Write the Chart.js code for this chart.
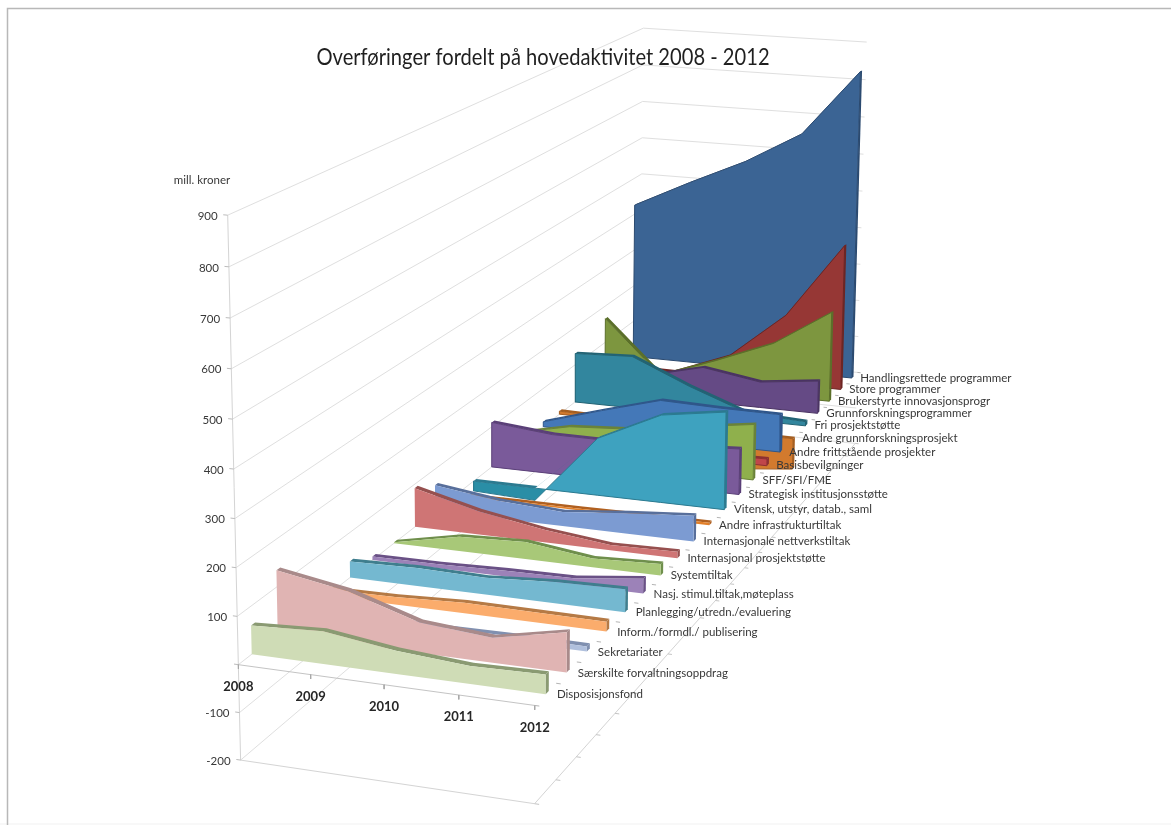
<!DOCTYPE html>
<html><head><meta charset="utf-8">
<style>html,body{margin:0;padding:0;background:#fff}canvas{display:block;filter:blur(0.6px)}</style>
<script src="https://cdn.jsdelivr.net/npm/chart.js@4/dist/chart.umd.min.js"></script>
</head><body><canvas id="c" width="1171" height="825"></canvas>
<script>
const titleText = "Overføringer fordelt på hovedaktivitet 2008 - 2012";
const unitLabel = "mill. kroner";
const years = ["2008","2009","2010","2011","2012"];
const valueTicks = [900,800,700,600,500,400,300,200,100,-100,-200];
const gridValues = [900,800,700,600,500,400,300,200,100,0,-100,-200];
const categories = ["Disposisjonsfond","Særskilte forvaltningsoppdrag","Sekretariater","Inform./formdl./ publisering","Planlegging/utredn./evaluering","Nasj. stimul.tiltak,møteplass","Systemtiltak","Internasjonal prosjektstøtte","Internasjonale nettverkstiltak","Andre infrastrukturtiltak","Vitensk, utstyr, datab., saml","Strategisk institusjonsstøtte","SFF/SFI/FME","Basisbevilgninger","Andre frittstående prosjekter","Andre grunnforskningsprosjekt","Fri prosjektstøtte","Grunnforskningsprogrammer","Brukerstyrte innovasjonsprogr","Store programmer","Handlingsrettede programmer"];
const disposisjonsfond = [60,68,48,37,40];
const saerskilte = [135,110,64,52,83];
const sekretariater = [10,12,10,12,11];
const inform = [14,16,23,22,21];
const planlegging = [36,40,37,47,50];
const nasjStimul = [8,9,13,15,33];
const systemtiltak = [2,33,39,20,26];
const internasjonalProsjekt = [91,54,29,12,15];
const internasjonaleNettverk = [62,42,33,48,60];
const andreInfrastruktur = [3,4,4,5,6];
const vitensk = [-24,-30,138,210,233];
const strategisk = [111,97,97,102,111];
const sff = [50,83,93,115,137];
const basis = [4,8,10,14,17];
const andreFrittstaaende = [13,58,100,96,95];
const andreGrunn = [8,5,-30,-95,-79];
const friProsjekt = [130,137,73,18,11];
const grunnProgram = [40,55,92,68,86];
const brukerstyrte = [165,25,80,141,239];
const storeProgram = [5,3,62,188,390];
const handlingsrettede = [425,499,568,654,831];
const seriesValues = [disposisjonsfond,saerskilte,sekretariater,inform,planlegging,nasjStimul,systemtiltak,internasjonalProsjekt,internasjonaleNettverk,andreInfrastruktur,vitensk,strategisk,sff,basis,andreFrittstaaende,andreGrunn,friProsjekt,grunnProgram,brukerstyrte,storeProgram,handlingsrettede];
const faceColors = ["#cfdcb6","#e0b4b3","#b0c0dd","#fbac6c","#74b8d0","#9c82b8","#a8c878","#cf7575","#7c9bd2","#e2802a","#3ea2bf","#7a5a9a","#8fb04c","#c0464a","#4478b8","#d27a2e","#32869e","#654a85","#7d963f","#963735","#3b6494"];
const edgeColors = ["#8a9a72","#a98a8a","#8090b0","#b57a45","#3f7e8e","#6a5186","#6f8f4c","#96504f","#586f9b","#b06020","#2b7a90","#5a3f78","#6a8238","#8d3032","#2f568a","#a55e20","#226374","#4a3363","#5b6f2a","#6d2523","#2b4a70"];
const negativeColors = {10:"#2a8ea6"};

// Camera calibration: [year index, depth index, value] -> picture position of the box corners.
const calibration = [
 [0,0,900,228,213],[0,0,0,239,665],[0,0,-200,242,760],[4,0,-200,535,803],[4,0,0,535,705],[2,0,0,384,685],
 [0,21,900,643,29],[0,21,500,642,175],[4,21,900,867,42],[4,21,0,858,372],
 [0,.5,0,250,655],[4,.5,0,545,693],[4,1.5,0,567,672],[4,20.5,0,852,378],[0,20.5,0,633,354],
 [0,4.5,0,350,578],[0,7.5,0,415,528],[4,7.5,0,677,563],[4,10.5,0,723,508],[4,14.5,0,780,452]
];
function solveCamera(){
  const n=11,A=Array.from({length:n},()=>new Array(n+1).fill(0));
  const add=(r,b)=>{for(let i=0;i<n;i++){for(let j=0;j<n;j++)A[i][j]+=r[i]*r[j];A[i][n]+=r[i]*b;}};
  for(const [t,d,v,x,y] of calibration){
    const V=v/100,X=x/1000,Y=y/1000;
    add([t,d,V,1,0,0,0,0,-X*t,-X*d,-X*V],X);
    add([0,0,0,0,t,d,V,1,-Y*t,-Y*d,-Y*V],Y);
  }
  for(let i=0;i<n;i++){
    let m=i;for(let k=i+1;k<n;k++)if(Math.abs(A[k][i])>Math.abs(A[m][i]))m=k;
    [A[i],A[m]]=[A[m],A[i]];
    for(let k=0;k<n;k++){if(k===i)continue;const f=A[k][i]/A[i][i];for(let j=i;j<=n;j++)A[k][j]-=f*A[i][j];}
  }
  return A.map((r,i)=>r[n]/r[i]);
}
const cam=solveCamera();
function project(t,d,v){
  const V=v/100,w=cam[8]*t+cam[9]*d+cam[10]*V+1;
  return {x:1000*(cam[0]*t+cam[1]*d+cam[2]*V+cam[3])/w,y:1000*(cam[4]*t+cam[5]*d+cam[6]*V+cam[7])/w};
}

const datasets=[];
function addLine(points,color,width){datasets.push({data:points,showLine:true,fill:false,borderColor:color,borderWidth:width,pointRadius:0,tension:0,clip:false});}
function addPoly(points,fill,stroke,width){
  datasets.push({data:points.concat([points[0]]),showLine:width>0,polyFill:fill,borderColor:stroke,borderWidth:width,pointRadius:0,tension:0,clip:false,borderJoinStyle:'round'});
}
// walls and floor
gridValues.forEach(v=>{
  addLine([project(0,0,v),project(0,21,v),project(4,21,v)],"#dfdfdf",1);
});
addLine([project(0,0,900),project(0,0,-200)],"#d4d4d4",1);
addLine([project(0,0,-200),project(4,0,-200),project(4,21,-200)],"#d4d4d4",1);
addLine([project(0,0,0),project(4,0,0)],"#c4c4c4",1);
valueTicks.concat([0]).forEach(v=>addLine([project(-.06,0,v),project(0,0,v)],"#bcbcbc",1));
years.forEach((y,i)=>addLine([project(i,0,0),project(i,0,-9)],"#a8a8a8",1));
for(let k=0;k<=21;k++){
  addLine([project(4,k,0),project(4.06,k,0)],"#b4b4b4",1);
  addLine([project(4,k,-200),project(4.06,k,-200)],"#c4c4c4",1);
}
// areas, back to front
const depthGap=.15;
function signRuns(vals){
  const runs=[];let cur=null;
  vals.forEach((v,i)=>{
    if(i>0&&vals[i-1]*v<0){
      const tc=i-1+vals[i-1]/(vals[i-1]-v);
      cur.push({t:tc,v:0});cur=[{t:tc,v:0}];runs.push(cur);
    }
    if(!cur){cur=[];runs.push(cur);}
    cur.push({t:i,v});
  });
  return runs;
}
for(let s=seriesValues.length-1;s>=0;s--){
  const vals=seriesValues[s],d=s+.5,dB=d+depthGap,edge=edgeColors[s];
  // top face
  const topFace=vals.map((v,i)=>project(i,d,Math.max(v,0))).concat(vals.map((v,i)=>project(i,dB,Math.max(v,0))).reverse());
  addPoly(topFace,edge,edge,0);
  // end face
  const last=vals[vals.length-1];
  addPoly([project(4,d,0),project(4,d,last),project(4,dB,last),project(4,dB,0)],edge,edge,0);
  // front face(s)
  signRuns(vals).forEach(run=>{
    const neg=run.some(p=>p.v<0);
    const poly=run.map(p=>project(p.t,d,p.v)).concat(run.map(p=>project(p.t,d,0)).reverse());
    addPoly(poly,neg&&negativeColors[s]?negativeColors[s]:faceColors[s],edge,s>=10?1:0);
  });
}
datasets.forEach((ds,i)=>ds.order=datasets.length-i);

const polygonPlugin={id:'polygons',beforeDatasetDraw(chart,args){
  const ds=chart.data.datasets[args.index];if(!ds.polyFill)return;
  const pts=args.meta.data,ctx=chart.ctx;ctx.save();ctx.beginPath();
  pts.forEach((p,i)=>i?ctx.lineTo(p.x,p.y):ctx.moveTo(p.x,p.y));
  ctx.closePath();ctx.fillStyle=ds.polyFill;ctx.fill();ctx.restore();
}};
const textFont='Lato, "Open Sans", sans-serif';
const textPlugin={id:'texts',beforeDraw(chart){
  const c=chart.ctx;c.save();c.fillStyle="#fff";c.fillRect(0,0,1171,825);
  c.fillStyle="#f8f8f8";c.fillRect(0,823,1171,2);
  c.strokeStyle="#b8b8b8";c.lineWidth=1.5;c.beginPath();c.moveTo(7.5,825);c.lineTo(7.5,8.5);c.lineTo(1171,8.5);c.stroke();c.restore();
},afterDraw(chart){
  const c=chart.ctx;c.save();c.textBaseline='middle';
  c.fillStyle="#1f1f1f";c.textAlign='center';c.font='22px '+textFont;
  c.save();c.translate(543,58);c.scale(.915,1.02);c.fillText(titleText,0,0);c.restore();
  c.fillStyle="#383838";c.font='11.5px '+textFont;
  c.fillText(unitLabel,202,180);
  c.textAlign='right';
  valueTicks.forEach(v=>{const p=project(0,0,v);c.fillText(String(v),p.x-10,p.y+1);});
  c.textAlign='center';c.fillStyle="#262626";c.font='bold 13px '+textFont;
  years.forEach((y,i)=>{const p=project(i,0,0);c.fillText(y,p.x,p.y+22);});
  c.textAlign='left';c.fillStyle="#383838";c.font='11.5px '+textFont;
  categories.forEach((n,s)=>{const p=project(4.15,s+.5,0);c.fillText(n,p.x,p.y-1);});
  c.restore();
}};
new Chart(document.getElementById('c'),{
  type:'scatter',
  data:{datasets},
  plugins:[polygonPlugin,textPlugin],
  options:{responsive:false,animation:false,events:[],
    layout:{padding:0},
    plugins:{legend:{display:false},tooltip:{enabled:false},title:{display:false}},
    scales:{
      x:{type:'linear',display:false,min:0,max:1171},
      y:{type:'linear',display:false,min:0,max:825,reverse:true}
    }}
});
</script></body></html>
